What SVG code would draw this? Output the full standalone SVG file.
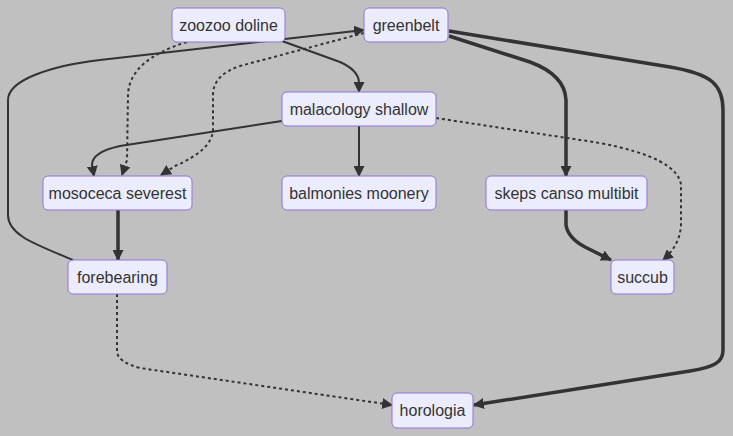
<svg xmlns="http://www.w3.org/2000/svg" width="733" height="436" viewBox="0 0 733 436">
<defs>
<style>
.node rect{fill:#ececff;stroke:#9370db;stroke-width:1px;}
.node text{font-family:"Liberation Sans",Arial,sans-serif;font-size:16px;fill:#333;text-anchor:middle;dominant-baseline:central;}
.e{fill:none;stroke:#333;stroke-width:2px;}
.thick{stroke-width:3.5px;}
.dot{stroke-dasharray:3 3;}
</style>
<marker id="arr" viewBox="0 0 10 10" refX="9" refY="5" markerWidth="11" markerHeight="11" markerUnits="userSpaceOnUse" orient="auto">
<path d="M0,0 L10,5 L0,10 z" fill="#333"/>
</marker>
</defs>
<rect x="0" y="0" width="733" height="436" fill="#c0c0c0"/>
<g id="edges">
<path class="e" d="M282,41 L340,62 Q358,70 359,82 L359,92" marker-end="url(#arr)"/>
<path class="e dot" d="M187,42 Q129,60 128,95 L127,160 L122,175" marker-end="url(#arr)"/>
<path class="e dot" d="M364,33 L240,66 Q213,75 213,95 L213,130 Q212,150 175,166 L161,175" marker-end="url(#arr)"/>
<path class="e" d="M73,260 C35,244 8,235 8,215 L8,100 C8,80 50,66 100,60 L364,30" marker-end="url(#arr)"/>
<path class="e" d="M282,121 L120,146 Q92,152 92,165 L94,176" marker-end="url(#arr)"/>
<path class="e" d="M359,126 L359,176" marker-end="url(#arr)"/>
<path class="e dot" d="M436,118 L600,143 Q678,158 681,185 L681,225 Q680,245 663,260" marker-end="url(#arr)"/>
<path class="e thick" d="M449,36 L530,62 Q565,75 566,100 L566,176" marker-end="url(#arr)"/>
<path class="e thick" d="M449,31 L670,67 C712,74 723,85 723,110 L723,350 C723,362 715,367 690,371 L474,405" marker-end="url(#arr)"/>
<path class="e thick" d="M566,210 L566,225 Q568,238 585,247 L611,260" marker-end="url(#arr)"/>
<path class="e thick" d="M118,210 L118,260" marker-end="url(#arr)"/>
<path class="e dot" d="M117,294 L117,352 Q118,362 140,368 L392,405" marker-end="url(#arr)"/>
</g>
<g id="zoozoo" class="node"><rect x="172" y="8" width="113" height="34" rx="5"/><text x="228.5" y="25">zoozoo doline</text></g>
<g id="greenbelt" class="node"><rect x="364" y="8" width="84" height="34" rx="5"/><text x="406" y="25">greenbelt</text></g>
<g id="malacology" class="node"><rect x="282" y="92" width="154" height="34" rx="5"/><text x="359" y="109">malacology shallow</text></g>
<g id="mosoceca" class="node"><rect x="43" y="176" width="149" height="34" rx="5"/><text x="117.5" y="193">mosoceca severest</text></g>
<g id="balmonies" class="node"><rect x="282" y="176" width="154" height="34" rx="5"/><text x="359" y="193">balmonies moonery</text></g>
<g id="skeps" class="node"><rect x="486" y="176" width="161" height="34" rx="5"/><text x="566.5" y="193">skeps canso multibit</text></g>
<g id="succub" class="node"><rect x="611" y="260" width="63" height="34" rx="5"/><text x="642.5" y="277">succub</text></g>
<g id="forebearing" class="node"><rect x="68" y="260" width="99" height="34" rx="5"/><text x="117.5" y="277">forebearing</text></g>
<g id="horologia" class="node"><rect x="392" y="393" width="81" height="35" rx="5"/><text x="432.5" y="410.5">horologia</text></g>
</svg>
